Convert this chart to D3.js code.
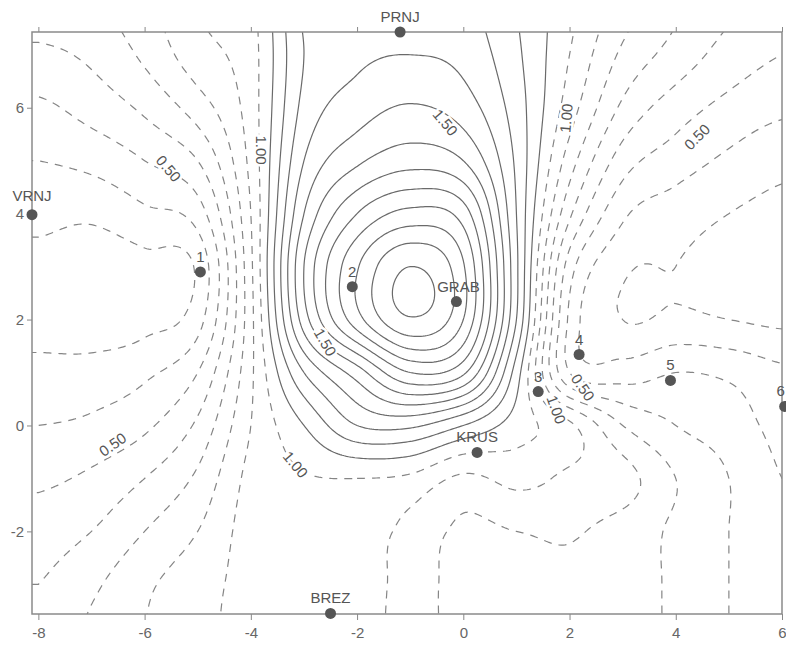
<!DOCTYPE html>
<html>
<head>
<meta charset="utf-8">
<script src="https://cdn.jsdelivr.net/npm/d3@7"></script>
<style>
  body { margin: 0; background: #fff; }
  text { font-family: "Liberation Sans", Arial, sans-serif; }
</style>
</head>
<body>
<div id="chart"></div>
<script>
// grid nodes (map units) and the field, rows from top (y=8) to bottom (y=-4)
var gridX = [-8, -7, -6, -5, -4, -3, -2, -1, 0, 1, 2, 3, 4, 5, 6];
var gridY = [8, 7, 6, 5, 4, 3, 2, 1, 0, -1, -2, -3, -4];
var field = [
  [0.65, 0.68, 0.77, 0.90, 0.97, 1.32, 1.36, 1.36, 1.33, 1.20, 1.03, 0.85, 0.72, 0.62, 0.55],
  [0.58, 0.62, 0.72, 0.86, 0.96, 1.30, 1.38, 1.40, 1.37, 1.22, 1.00, 0.78, 0.66, 0.56, 0.50],
  [0.48, 0.54, 0.62, 0.75, 0.95, 1.33, 1.45, 1.51, 1.45, 1.25, 0.95, 0.68, 0.55, 0.47, 0.42],
  [0.40, 0.43, 0.50, 0.60, 0.93, 1.40, 1.58, 1.66, 1.60, 1.28, 0.85, 0.55, 0.45, 0.38, 0.33],
  [0.33, 0.32, 0.38, 0.45, 0.90, 1.50, 1.80, 1.93, 1.85, 1.30, 0.72, 0.42, 0.35, 0.30, 0.27],
  [0.27, 0.24, 0.27, 0.32, 0.88, 1.60, 1.99, 2.20, 2.01, 1.32, 0.55, 0.32, 0.30, 0.26, 0.24],
  [0.26, 0.24, 0.27, 0.36, 0.87, 1.55, 1.96, 2.19, 2.00, 1.30, 0.48, 0.30, 0.32, 0.30, 0.28],
  [0.33, 0.34, 0.38, 0.50, 0.88, 1.30, 1.55, 1.80, 1.72, 1.15, 0.50, 0.45, 0.50, 0.48, 0.42],
  [0.40, 0.42, 0.48, 0.62, 0.90, 1.10, 1.30, 1.32, 1.20, 1.05, 0.92, 0.70, 0.60, 0.55, 0.47],
  [0.48, 0.52, 0.60, 0.72, 0.93, 0.99, 1.00, 0.98, 0.88, 0.93, 0.88, 0.84, 0.70, 0.60, 0.50],
  [0.55, 0.60, 0.70, 0.80, 0.94, 0.95, 0.95, 0.87, 0.78, 0.80, 0.81, 0.76, 0.68, 0.60, 0.52],
  [0.60, 0.68, 0.78, 0.86, 0.93, 0.94, 0.94, 0.86, 0.76, 0.77, 0.78, 0.75, 0.68, 0.60, 0.53],
  [0.63, 0.72, 0.80, 0.88, 0.92, 0.93, 0.93, 0.86, 0.76, 0.77, 0.77, 0.75, 0.68, 0.60, 0.53]
];
var levels = d3.range(1, 24).map(function (i) { return i / 10; });

// stations
var stationNames = ["PRNJ", "VRNJ", "1", "2", "GRAB", "4", "3", "5", "6", "KRUS", "BREZ"];
var stationX = [-1.19, -8.12, -4.95, -2.09, -0.13, 2.18, 1.41, 3.9, 6.05, 0.26, -2.5];
var stationY = [7.43, 3.98, 2.9, 2.62, 2.34, 1.34, 0.64, 0.85, 0.36, -0.51, -3.55];

// contour labels
var labelText = ["1.50", "1.00", "0.50", "1.00", "0.50", "1.50", "0.50", "1.00", "0.50", "1.00"];
var labelX = [-0.34, -3.8, -5.55, 1.94, 4.4, -2.6, -6.6, -3.16, 2.25, 1.75];
var labelY = [5.72, 5.2, 4.85, 5.8, 5.45, 1.57, -0.36, -0.74, 0.72, 0.3];
var labelAngle = [50, 90, 50, -85, -45, 60, -35, 50, 55, 70];

var xTicks = [-8, -6, -4, -2, 0, 2, 4, 6];
var yTicks = [-2, 0, 2, 4, 6];

var W = 786, H = 648;
var svg = d3.select("#chart").append("svg").attr("width", W).attr("height", H);

var x = d3.scaleLinear().domain([-8.12, 6.0]).range([32, 782]);
var y = d3.scaleLinear().domain([-3.56, 7.43]).range([614, 32]);

// smooth the coarse grid with catmull-rom so the library can trace contours
function cr(p0, p1, p2, p3, t) {
  return 0.5 * (2 * p1 + (-p0 + p2) * t + (2 * p0 - 5 * p1 + 4 * p2 - p3) * t * t +
    (-p0 + 3 * p1 - 3 * p2 + p3) * t * t * t);
}
var nCol = gridX.length, nRow = gridY.length;
function node(r, c) {
  r = Math.max(0, Math.min(nRow - 1, r));
  c = Math.max(0, Math.min(nCol - 1, c));
  return field[r][c];
}
function sample(gx, gy) {
  var cx = Math.max(0, Math.min(nCol - 1, gx - gridX[0]));
  var ry = Math.max(0, Math.min(nRow - 1, gridY[0] - gy));
  var i = Math.min(Math.floor(cx), nCol - 2), j = Math.min(Math.floor(ry), nRow - 2);
  var tx = cx - i, ty = ry - j;
  var rows = [];
  for (var k = -1; k <= 2; k++) {
    rows.push(cr(node(j + k, i - 1), node(j + k, i), node(j + k, i + 1), node(j + k, i + 2), tx));
  }
  return cr(rows[0], rows[1], rows[2], rows[3], ty);
}

var step = 0.04, fx0 = -8.6, fx1 = 6.6, fy0 = 8.4, fy1 = -4.4;
var nx = Math.round((fx1 - fx0) / step) + 1, ny = Math.round((fy0 - fy1) / step) + 1;
var fine = new Array(nx * ny);
for (var j = 0; j < ny; j++) {
  for (var i = 0; i < nx; i++) {
    fine[j * nx + i] = sample(fx0 + i * step, fy0 - j * step);
  }
}

var contours = d3.contours().size([nx, ny]).thresholds(levels)(fine);
var proj = d3.geoTransform({
  point: function (px, py) {
    this.stream.point(x(fx0 + (px - 0.5) * step), y(fy0 - (py - 0.5) * step));
  }
});
var path = d3.geoPath(proj);

svg.append("clipPath").attr("id", "plot")
  .append("rect").attr("x", 32).attr("y", 32).attr("width", 750).attr("height", 582);

var g = svg.append("g").attr("clip-path", "url(#plot)");
g.selectAll("path")
  .data(contours)
  .enter()
  .append("path")
  .attr("d", path)
  .attr("fill", "none")
  .attr("stroke", function (d) { return d.value > 1.0001 ? "#6a6a6a" : "#858585"; })
  .attr("stroke-width", 1.2)
  .attr("stroke-dasharray", function (d) { return d.value > 1.0001 ? null : "8,7"; });

// contour labels
g.selectAll("text.clab")
  .data(labelText)
  .enter()
  .append("text")
  .attr("class", "clab")
  .attr("transform", function (d, i) {
    return "translate(" + x(labelX[i]) + "," + y(labelY[i]) + ")rotate(" + labelAngle[i] + ")";
  })
  .attr("text-anchor", "middle")
  .attr("dy", "0.35em")
  .attr("font-size", 15)
  .attr("fill", "#555")
  .attr("stroke", "#fff")
  .attr("stroke-width", 5)
  .attr("paint-order", "stroke")
  .text(function (d) { return d; });

// frame
svg.append("rect")
  .attr("x", 32).attr("y", 32).attr("width", 750).attr("height", 582)
  .attr("fill", "none").attr("stroke", "#8a8a8a").attr("stroke-width", 1.5);

// axes
var xAxis = svg.append("g")
  .attr("transform", "translate(0,614)")
  .call(d3.axisBottom(x).tickValues(xTicks).tickSize(6).tickFormat(function (d) { return String(d); }));
var xTop = svg.append("g")
  .attr("transform", "translate(0,32)")
  .call(d3.axisTop(x).tickValues(xTicks).tickSize(5).tickFormat(""));
var yAxis = svg.append("g")
  .attr("transform", "translate(32,0)")
  .call(d3.axisLeft(y).tickValues(yTicks).tickSize(5).tickFormat(function (d) { return String(d); }));

[xAxis, xTop, yAxis].forEach(function (a) {
  a.select(".domain").remove();
  a.selectAll("line").attr("stroke", "#888");
  a.selectAll("text").attr("fill", "#666").attr("font-size", 15)
    .style("font-family", "'Liberation Sans', Arial, sans-serif");
});
xAxis.selectAll("text").attr("dy", "1.0em");

// stations
svg.selectAll("circle.st")
  .data(stationNames)
  .enter()
  .append("circle")
  .attr("class", "st")
  .attr("cx", function (d, i) { return x(stationX[i]); })
  .attr("cy", function (d, i) { return y(stationY[i]); })
  .attr("r", 5.5)
  .attr("fill", "#555");

svg.selectAll("text.st")
  .data(stationNames)
  .enter()
  .append("text")
  .attr("class", "st")
  .attr("x", function (d, i) { return x(stationX[i]) + (d === "GRAB" ? 2 : d === "6" ? -4 : 0); })
  .attr("y", function (d, i) { return y(stationY[i]) - (d === "VRNJ" ? 14 : 10); })
  .attr("text-anchor", "middle")
  .attr("font-size", 15)
  .attr("fill", "#555")
  .text(function (d) { return d; });
</script>
</body>
</html>
